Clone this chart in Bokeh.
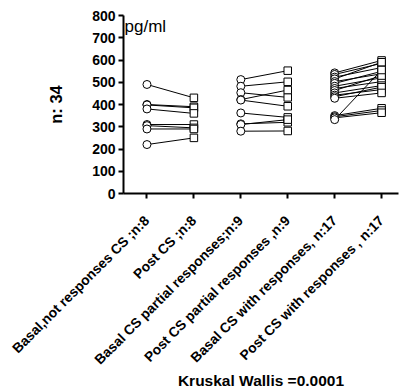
import math
from bokeh.plotting import figure
from bokeh.models import ColumnDataSource, FixedTicker, Label
from bokeh.embed import file_html
from bokeh.resources import INLINE

categories = [
    "Basal,not responses CS ;n:8",
    "Post CS ;n:8",
    "Basal CS partial responses;n:9",
    "Post CS partial responses ,n:9",
    "Basal CS with responses, n:17",
    "Post CS with responses , n:17",
]

basal_not = [490, 400, 398, 380, 310, 305, 290, 220]
post_not = [430, 390, 385, 360, 310, 295, 290, 250]

basal_partial = [512, 482, 453, 422, 420, 362, 313, 310, 280]
post_partial = [552, 502, 432, 465, 392, 342, 320, 332, 281]

basal_with = [542, 535, 523, 515, 503, 495, 482, 472, 463, 452, 442, 435, 428, 350, 345, 340, 332]
post_with = [598, 585, 566, 590, 538, 549, 520, 503, 530, 485, 467, 478, 452, 383, 373, 363, 555]

groups = [(0, 1, basal_not, post_not), (2, 3, basal_partial, post_partial), (4, 5, basal_with, post_with)]

x0, y0, x1, y1 = [], [], [], []
for xb, xp, b, q in groups:
    for vb, vp in zip(b, q):
        x0.append(xb); y0.append(vb); x1.append(xp); y1.append(vp)
seg = ColumnDataSource(dict(x0=x0, y0=y0, x1=x1, y1=y1))

FONT = "Liberation Sans"

p = figure(width=400, height=391, x_range=(-0.5, 5.36), y_range=(0, 800),
           output_backend="svg", toolbar_location=None,
           min_border_left=123, min_border_right=2, min_border_top=15, min_border_bottom=190)
p.outline_line_color = None
p.xgrid.grid_line_color = None
p.ygrid.grid_line_color = None

p.segment("x0", "y0", "x1", "y1", source=seg, line_color="black", line_width=1)
p.scatter(x0, y0, marker="circle", size=8, fill_color="white", line_color="black", line_width=1)
p.scatter(x1, y1, marker="square", size=7.5, fill_color="white", line_color="black", line_width=1)

p.yaxis.ticker = FixedTicker(ticks=list(range(0, 801, 100)))
p.xaxis.ticker = FixedTicker(ticks=list(range(len(categories))))
p.xaxis.major_label_overrides = {i: c for i, c in enumerate(categories)}
p.xaxis.major_label_orientation = math.pi / 4

for ax in (p.xaxis[0], p.yaxis[0]):
    ax.axis_line_width = 2
    ax.axis_line_color = "black"
    ax.major_tick_line_width = 2
    ax.major_tick_line_color = "black"
    ax.major_tick_in = 0
    ax.major_tick_out = 5
    ax.minor_tick_line_color = None
    ax.major_label_text_font = FONT
    ax.major_label_text_font_style = "bold"
    ax.major_label_text_color = "black"
    ax.axis_label_text_font = FONT
    ax.axis_label_text_font_style = "bold"
    ax.axis_label_text_color = "black"

p.yaxis.major_label_text_font_size = "14px"
p.xaxis.major_label_text_font_size = "13.8px"
p.xaxis.major_label_standoff = 20
p.yaxis.major_label_standoff = 3
p.yaxis.axis_label = "n: 34"
p.yaxis.axis_label_text_font_size = "16.5px"
p.yaxis.axis_label_standoff = 24
p.xaxis.axis_label = "Kruskal Wallis =0.0001"
p.xaxis.axis_label_text_font_size = "15.5px"
p.xaxis.axis_label_standoff = -4

p.add_layout(Label(x=1, y=793, x_units="screen", y_units="data", text="pg/ml",
                   text_font=FONT, text_font_size="17px", text_baseline="top",
                   text_color="black"))

open("out.html", "w").write(file_html(p, INLINE))
